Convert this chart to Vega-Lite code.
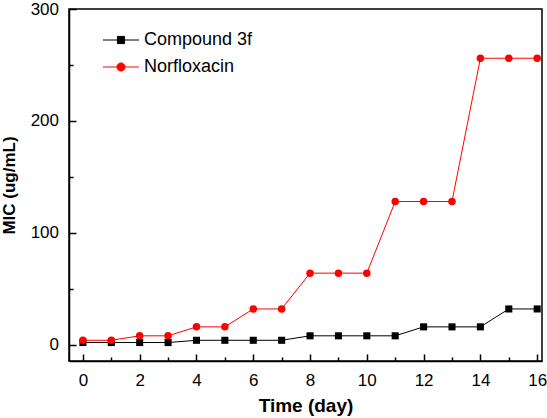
{
  "$schema": "https://vega.github.io/schema/vega-lite/v6.json",
  "width": 473,
  "height": 352,
  "autosize": "none",
  "padding": {"left": 69, "top": 9, "right": 5, "bottom": 57},
  "background": "white",
  "config": {
    "view": {"stroke": "black", "strokeWidth": 1.5},
    "font": "Liberation Sans"
  },
  "data": {
    "values": [
      {"day": 0, "series": "Compound 3f", "mic": 2},
      {"day": 1, "series": "Compound 3f", "mic": 2},
      {"day": 2, "series": "Compound 3f", "mic": 2},
      {"day": 3, "series": "Compound 3f", "mic": 2},
      {"day": 4, "series": "Compound 3f", "mic": 4},
      {"day": 5, "series": "Compound 3f", "mic": 4},
      {"day": 6, "series": "Compound 3f", "mic": 4},
      {"day": 7, "series": "Compound 3f", "mic": 4},
      {"day": 8, "series": "Compound 3f", "mic": 8},
      {"day": 9, "series": "Compound 3f", "mic": 8},
      {"day": 10, "series": "Compound 3f", "mic": 8},
      {"day": 11, "series": "Compound 3f", "mic": 8},
      {"day": 12, "series": "Compound 3f", "mic": 16},
      {"day": 13, "series": "Compound 3f", "mic": 16},
      {"day": 14, "series": "Compound 3f", "mic": 16},
      {"day": 15, "series": "Compound 3f", "mic": 32},
      {"day": 16, "series": "Compound 3f", "mic": 32},
      {"day": 0, "series": "Norfloxacin", "mic": 4},
      {"day": 1, "series": "Norfloxacin", "mic": 4},
      {"day": 2, "series": "Norfloxacin", "mic": 8},
      {"day": 3, "series": "Norfloxacin", "mic": 8},
      {"day": 4, "series": "Norfloxacin", "mic": 16},
      {"day": 5, "series": "Norfloxacin", "mic": 16},
      {"day": 6, "series": "Norfloxacin", "mic": 32},
      {"day": 7, "series": "Norfloxacin", "mic": 32},
      {"day": 8, "series": "Norfloxacin", "mic": 64},
      {"day": 9, "series": "Norfloxacin", "mic": 64},
      {"day": 10, "series": "Norfloxacin", "mic": 64},
      {"day": 11, "series": "Norfloxacin", "mic": 128},
      {"day": 12, "series": "Norfloxacin", "mic": 128},
      {"day": 13, "series": "Norfloxacin", "mic": 128},
      {"day": 14, "series": "Norfloxacin", "mic": 256},
      {"day": 15, "series": "Norfloxacin", "mic": 256},
      {"day": 16, "series": "Norfloxacin", "mic": 256}
    ]
  },
  "resolve": {"axis": {"x": "independent", "y": "independent"}},
  "layer": [
    {
      "mark": {"type": "line", "strokeWidth": 1},
      "encoding": {
        "x": {
          "field": "day",
          "type": "quantitative",
          "scale": {"domain": [-0.49, 16.17], "nice": false, "zero": false},
          "axis": {
            "orient": "bottom",
            "title": "Time (day)",
            "values": [0, 2, 4, 6, 8, 10, 12, 14, 16],
            "labelOverlap": false,
            "labelFlush": false,
            "grid": false,
            "tickSize": -7,
            "tickColor": "black",
            "tickWidth": 1.5,
            "domainColor": "black",
            "domainWidth": 1.5,
            "labelColor": "black",
            "labelFontSize": 17,
            "labelPadding": 18,
            "titleFontSize": 19,
            "titleFontWeight": "bold",
            "titleColor": "black",
            "titlePadding": 8
          }
        },
        "y": {
          "field": "mic",
          "type": "quantitative",
          "scale": {"domain": [-14.5, 300], "nice": false, "zero": false},
          "axis": {
            "orient": "left",
            "title": "MIC (ug/mL)",
            "values": [0, 100, 200, 300],
            "labelOverlap": false,
            "labelFlush": false,
            "grid": false,
            "tickSize": -7,
            "tickColor": "black",
            "tickWidth": 1.5,
            "domainColor": "black",
            "domainWidth": 1.5,
            "labelColor": "black",
            "labelFontSize": 17,
            "labelPadding": 17.5,
            "titleFontSize": 17,
            "titleFontWeight": "bold",
            "titleColor": "black",
            "titlePadding": 12
          }
        },
        "color": {
          "field": "series",
          "type": "nominal",
          "scale": {"domain": ["Compound 3f", "Norfloxacin"], "range": ["#000000", "#ff0000"]},
          "legend": {
            "title": null,
            "orient": "none",
            "legendX": 43,
            "legendY": 22,
            "padding": 0,
            "symbolSize": 144,
            "rowPadding": 9,
            "labelOffset": 14,
            "labelFontSize": 18,
            "labelColor": "black",
            "labelLimit": 300,
            "symbolStrokeWidth": 1,
            "encode": {
              "symbols": {
                "update": {
                  "shape": {"signal": "datum.value === 'Norfloxacin' ? 'M -3 0 H -0.68 A 0.68 0.68 0 1 1 0.68 0 A 0.68 0.68 0 1 1 -0.68 0 M 0.68 0 H 3' : 'M -3 0 H 3 M -0.6 -0.6 H 0.6 V 0.6 H -0.6 Z'"},
                  "fill": {"signal": "datum.value === 'Norfloxacin' ? '#ff0000' : '#000000'"},
                  "stroke": {"signal": "datum.value === 'Norfloxacin' ? '#ff0000' : '#000000'"},
                  "strokeWidth": {"value": 1},
                  "opacity": {"value": 1}
                }
              }
            }
          }
        }
      }
    },
    {
      "transform": [{"filter": "datum.series === 'Compound 3f'"}],
      "mark": {"type": "point", "shape": "square", "filled": true, "opacity": 1, "size": 50, "color": "#000000"},
      "encoding": {
        "x": {
          "field": "day",
          "type": "quantitative",
          "axis": {
            "orient": "bottom",
            "title": null,
            "values": [1, 3, 5, 7, 9, 11, 13, 15],
            "labels": false,
            "domain": false,
            "grid": false,
            "tickSize": -4,
            "tickColor": "black",
            "tickWidth": 1.5
          }
        },
        "y": {
          "field": "mic",
          "type": "quantitative",
          "axis": {
            "orient": "left",
            "title": null,
            "values": [50, 150, 250],
            "labels": false,
            "domain": false,
            "grid": false,
            "tickSize": -4,
            "tickColor": "black",
            "tickWidth": 1.5
          }
        }
      }
    },
    {
      "transform": [{"filter": "datum.series === 'Norfloxacin'"}],
      "mark": {"type": "point", "shape": "circle", "filled": true, "opacity": 1, "size": 56, "color": "#ff0000"},
      "encoding": {
        "x": {"field": "day", "type": "quantitative", "axis": null},
        "y": {"field": "mic", "type": "quantitative", "axis": null}
      }
    }
  ]
}
